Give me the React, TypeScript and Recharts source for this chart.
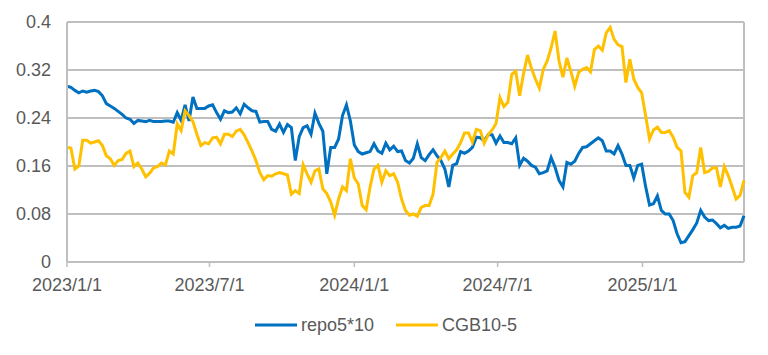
import React from "react";
import { LineChart, Line, XAxis, YAxis, CartesianGrid, ReferenceLine } from "recharts";

// x grid: days since 2023/1/1, sampled every 5 days
const START = Date.UTC(2023, 0, 1);
const STEP_DAYS = 5;

const repoValues = [
  0.293, 0.291, 0.286, 0.282, 0.285, 0.283, 0.285, 0.286, 0.284, 0.277,
  0.264, 0.26, 0.256, 0.251, 0.246, 0.24, 0.238, 0.231, 0.236, 0.235,
  0.234, 0.236, 0.234, 0.234, 0.234, 0.235, 0.235, 0.233, 0.249, 0.236,
  0.262, 0.235, 0.275, 0.256, 0.256, 0.256, 0.26, 0.262, 0.249, 0.238,
  0.252, 0.249, 0.25, 0.257, 0.247, 0.263, 0.257, 0.252, 0.251, 0.233,
  0.234, 0.234, 0.221, 0.218, 0.23, 0.216, 0.229, 0.224, 0.169, 0.209,
  0.224, 0.227, 0.213, 0.248, 0.231, 0.218, 0.147, 0.191, 0.191, 0.205,
  0.244, 0.262, 0.235, 0.195, 0.184, 0.18, 0.182, 0.184, 0.197, 0.185,
  0.181, 0.198, 0.187, 0.193, 0.184, 0.185, 0.169, 0.165, 0.173, 0.197,
  0.174, 0.169, 0.179, 0.187, 0.177, 0.169, 0.155, 0.125, 0.161, 0.164,
  0.184, 0.181, 0.185, 0.191, 0.208, 0.207, 0.202, 0.212, 0.212, 0.198,
  0.21, 0.199, 0.199, 0.197, 0.207, 0.161, 0.173, 0.168, 0.161, 0.158,
  0.147, 0.149, 0.152, 0.174, 0.158, 0.136, 0.125, 0.166, 0.163, 0.168,
  0.181, 0.191, 0.192, 0.197, 0.202, 0.207, 0.202, 0.185, 0.185, 0.18,
  0.194, 0.18, 0.161, 0.161, 0.14, 0.161, 0.163, 0.126, 0.095, 0.097,
  0.11, 0.086, 0.08, 0.08, 0.069, 0.047, 0.032, 0.034, 0.044, 0.054,
  0.065, 0.086, 0.075, 0.069, 0.07, 0.064, 0.057, 0.061, 0.056, 0.058,
  0.058, 0.06, 0.077,
];

const cgbValues = [
  0.191, 0.19, 0.155, 0.16, 0.203, 0.203, 0.198, 0.2, 0.202, 0.194,
  0.177, 0.172, 0.161, 0.169, 0.171, 0.181, 0.185, 0.159, 0.165, 0.155,
  0.142, 0.148, 0.157, 0.159, 0.165, 0.162, 0.185, 0.18, 0.23, 0.219,
  0.252, 0.244, 0.234, 0.213, 0.194, 0.199, 0.197, 0.207, 0.208, 0.197,
  0.213, 0.213, 0.209, 0.218, 0.221, 0.212, 0.199, 0.185, 0.169, 0.149,
  0.137, 0.144, 0.143, 0.147, 0.149, 0.147, 0.145, 0.113, 0.119, 0.114,
  0.162, 0.147, 0.133, 0.152, 0.155, 0.122, 0.114, 0.1, 0.078, 0.105,
  0.125, 0.119, 0.172, 0.14, 0.13, 0.094, 0.087, 0.125, 0.155, 0.161,
  0.133, 0.152, 0.144, 0.147, 0.133, 0.105, 0.086, 0.078, 0.08, 0.076,
  0.091, 0.094, 0.094, 0.113, 0.166, 0.174, 0.185, 0.172, 0.18, 0.187,
  0.199, 0.215, 0.215, 0.2, 0.221, 0.219, 0.198, 0.212, 0.22, 0.231,
  0.274, 0.259, 0.266, 0.313, 0.318, 0.277, 0.314, 0.345, 0.323, 0.305,
  0.29, 0.321, 0.335, 0.357, 0.385, 0.335, 0.308, 0.34, 0.318, 0.293,
  0.316, 0.321, 0.324, 0.317, 0.354, 0.36, 0.353, 0.382, 0.391, 0.371,
  0.362, 0.359, 0.299, 0.338, 0.305, 0.291, 0.282, 0.244, 0.205, 0.22,
  0.225, 0.216, 0.216, 0.219, 0.208, 0.191, 0.185, 0.116, 0.108, 0.144,
  0.149, 0.191, 0.149, 0.151, 0.157, 0.157, 0.125, 0.159, 0.144, 0.125,
  0.105, 0.111, 0.136,
];

const xTickLabels = ["2023/1/1", "2023/7/1", "2024/1/1", "2024/7/1", "2025/1/1"];
const yTicks = [0, 0.08, 0.16, 0.24, 0.32, 0.4];
const seriesNames = ["repo5*10", "CGB10-5"];
const seriesColors = ["#0070C0", "#FFC000"];

const dayOf = (label: string) => {
  const [y, m, d] = label.split("/").map(Number);
  return Math.round((Date.UTC(y, m - 1, d) - START) / 86400000);
};
const xTickDays = xTickLabels.map(dayOf);
const lastDay = (repoValues.length - 1) * STEP_DAYS;

const data = repoValues.map((v, i) => ({
  day: i * STEP_DAYS,
  repo: v,
  cgb: cgbValues[i],
}));

const FONT = "'Liberation Sans', Arial, sans-serif";
const TEXT = "#595959";
const GRID = "#BFBFBF";

export default function App() {
  return (
    <div style={{ position: "absolute", left: 0, top: 0, width: 768, height: 355, background: "#fff", fontFamily: FONT }}>
      <LineChart width={768} height={355} data={data} margin={{ top: 22, right: 24, left: 0, bottom: 63 }}>
        <CartesianGrid vertical={false} stroke={GRID} strokeWidth={2} />
        <XAxis
          dataKey="day"
          type="number"
          domain={[0, lastDay]}
          ticks={xTickDays}
          interval={0}
          tickFormatter={(d: number) => xTickLabels[xTickDays.indexOf(d)] ?? ""}
          tick={{ fill: TEXT, fontSize: 18, fontFamily: FONT }}
          tickLine={{ stroke: GRID, strokeWidth: 1.5 }}
          axisLine={{ stroke: GRID, strokeWidth: 2 }}
          tickSize={5}
          tickMargin={11}
          height={30}
        />
        <YAxis
          domain={[0, 0.4]}
          ticks={yTicks}
          interval={0}
          tickFormatter={(v: number) => String(v)}
          tick={{ fill: TEXT, fontSize: 18, fontFamily: FONT }}
          tickLine={false}
          tickSize={0}
          tickMargin={16}
          axisLine={{ stroke: GRID, strokeWidth: 2 }}
          width={67}
        />
        <ReferenceLine x={lastDay} stroke={GRID} strokeWidth={2} />
        <Line
          type="linear"
          dataKey="repo"
          name={seriesNames[0]}
          stroke={seriesColors[0]}
          strokeWidth={3}
          dot={false}
          isAnimationActive={false}
        />
        <Line
          type="linear"
          dataKey="cgb"
          name={seriesNames[1]}
          stroke={seriesColors[1]}
          strokeWidth={3}
          dot={false}
          isAnimationActive={false}
        />
      </LineChart>
      <div
        style={{
          position: "absolute",
          left: 255,
          top: 315,
          height: 20,
          display: "flex",
          alignItems: "center",
          fontSize: 18,
          color: TEXT,
          fontFamily: FONT,
          whiteSpace: "nowrap",
        }}
      >
        {seriesNames.map((n, i) => (
          <div key={n} style={{ display: "flex", alignItems: "center", marginRight: i === 0 ? 22 : 0 }}>
            <svg width={42} height={6} style={{ marginRight: 4 }}>
              <line x1={0} y1={3} x2={42} y2={3} stroke={seriesColors[i]} strokeWidth={3} />
            </svg>
            <span>{n}</span>
          </div>
        ))}
      </div>
    </div>
  );
}
